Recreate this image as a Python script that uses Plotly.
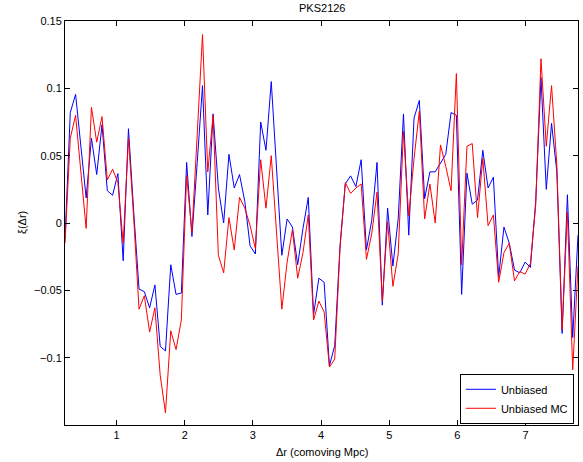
import plotly.graph_objects as go

title_text = "PKS2126"
x_start = 0.243
x_end = 7.769

unbiased = [
    -0.012, 0.082, 0.0955, 0.057, 0.0186, 0.063, 0.036, 0.073, 0.024, 0.0206, 0.0367, -0.028, 0.070, 0.008, -0.049, -0.051, -0.063,
    -0.046, -0.0916, -0.095, -0.031, -0.053, -0.052, 0.045, -0.010, 0.045, 0.102, 0.006, 0.081, 0.026, 0.000, 0.051, 0.026,
    0.036, 0.016, -0.017, -0.023, 0.075, 0.054, 0.105, 0.042, -0.024, 0.003, -0.003, -0.031, -0.004, 0.019, -0.068, -0.041,
    -0.044, -0.106, -0.091, -0.017, 0.029, 0.035, 0.027, 0.047, -0.020, 0.002, 0.045, -0.061, 0.011, -0.032, 0.003,
    0.081, -0.009, 0.078, 0.091, 0.018, 0.038, 0.038, 0.045, 0.051, 0.082, 0.080, -0.053, 0.037, 0.014, 0.017, 0.054,
    0.026, 0.034, -0.040, -0.003, -0.015, -0.035, -0.037, -0.029, -0.033, 0.016, 0.108, 0.025, 0.074, 0.038, -0.082, 0.021, -0.085, -0.009,
]

unbiased_mc = [
    -0.015, 0.063, 0.080, 0.038, -0.004, 0.086, 0.060, 0.079, 0.032, 0.040, 0.030, -0.015, 0.063, 0.003, -0.064, -0.054, -0.081,
    -0.063, -0.113, -0.141, -0.080, -0.094, -0.072, 0.0355, -0.007, 0.066, 0.140, 0.038, 0.080, -0.024, -0.037, 0.004, -0.020,
    0.019, 0.011, -0.002, -0.019, 0.047, 0.011, 0.050, -0.007, -0.064, -0.029, -0.005, -0.041, -0.022, 0.006, -0.072, -0.058,
    -0.066, -0.107, -0.101, -0.019, 0.030, 0.022, 0.026, 0.029, -0.027, -0.008, 0.023, -0.058, 0.001, -0.047, -0.023,
    0.068, 0.005, 0.048, 0.083, 0.003, 0.029, 0.000, 0.058, 0.042, 0.024, 0.111, -0.031, 0.057, 0.059, 0.004, 0.048,
    -0.002, 0.006, -0.044, -0.022, -0.015, -0.043, -0.036, -0.038, -0.030, 0.013, 0.122, 0.057, 0.102, 0.043, -0.079, 0.008, -0.109, -0.032,
]

n = len(unbiased)
dr = [x_start + (x_end - x_start) * i / (n - 1) for i in range(n)]

x_ticks = [1, 2, 3, 4, 5, 6, 7]
y_ticks = [-0.1, -0.05, 0, 0.05, 0.1, 0.15]
y_ticklabels = ["\u22120.1", "\u22120.05", "0", "0.05", "0.1", "0.15"]

FONT = "Liberation Sans, Arial, Helvetica, sans-serif"

fig = go.Figure()
fig.add_trace(go.Scatter(x=dr, y=unbiased, mode="lines", name="Unbiased",
                         line=dict(color="#0000ff", width=1)))
fig.add_trace(go.Scatter(x=dr, y=unbiased_mc, mode="lines", name="Unbiased MC",
                         line=dict(color="#ff0000", width=1)))

axis_common = dict(showline=True, linecolor="black", linewidth=1, mirror="ticks",
                   ticks="inside", ticklen=5, tickcolor="black", tickwidth=1,
                   showgrid=False, zeroline=False,
                   tickfont=dict(family=FONT, size=11, color="black"))

fig.update_layout(
    width=583, height=462,
    margin=dict(l=65, r=5, t=21, b=37),
    paper_bgcolor="white", plot_bgcolor="white",
    font=dict(family=FONT, size=11, color="black"),
    xaxis=dict(range=[x_start, x_end], tickvals=x_ticks, **axis_common),
    yaxis=dict(range=[-0.15, 0.15], tickvals=y_ticks, ticktext=y_ticklabels, **axis_common),
    showlegend=True,
    legend=dict(x=0.992, y=0.003, xanchor="right", yanchor="bottom",
                bgcolor="white", bordercolor="black", borderwidth=1,
                font=dict(family=FONT, size=11, color="black"),
                tracegroupgap=0, itemwidth=30, traceorder="normal"),
    annotations=[
        dict(text=title_text, xref="paper", yref="paper", x=0.5, y=1.0, yshift=13,
             yanchor="middle", showarrow=False, font=dict(family=FONT, size=11)),
        dict(text="\u0394r (comoving Mpc)", xref="paper", yref="paper", x=0.5, y=0, yshift=-27,
             yanchor="middle", showarrow=False, font=dict(family=FONT, size=11)),
        dict(text="\u03be(\u0394r)", xref="paper", yref="paper", x=0, y=0.5, xshift=-43,
             xanchor="center", yanchor="middle",
             textangle=-90, showarrow=False, font=dict(family=FONT, size=11)),
    ],
)

fig.write_html("out.html", config={"displayModeBar": False},
               post_script="document.body.style.margin='0';document.body.style.overflow='hidden';")
